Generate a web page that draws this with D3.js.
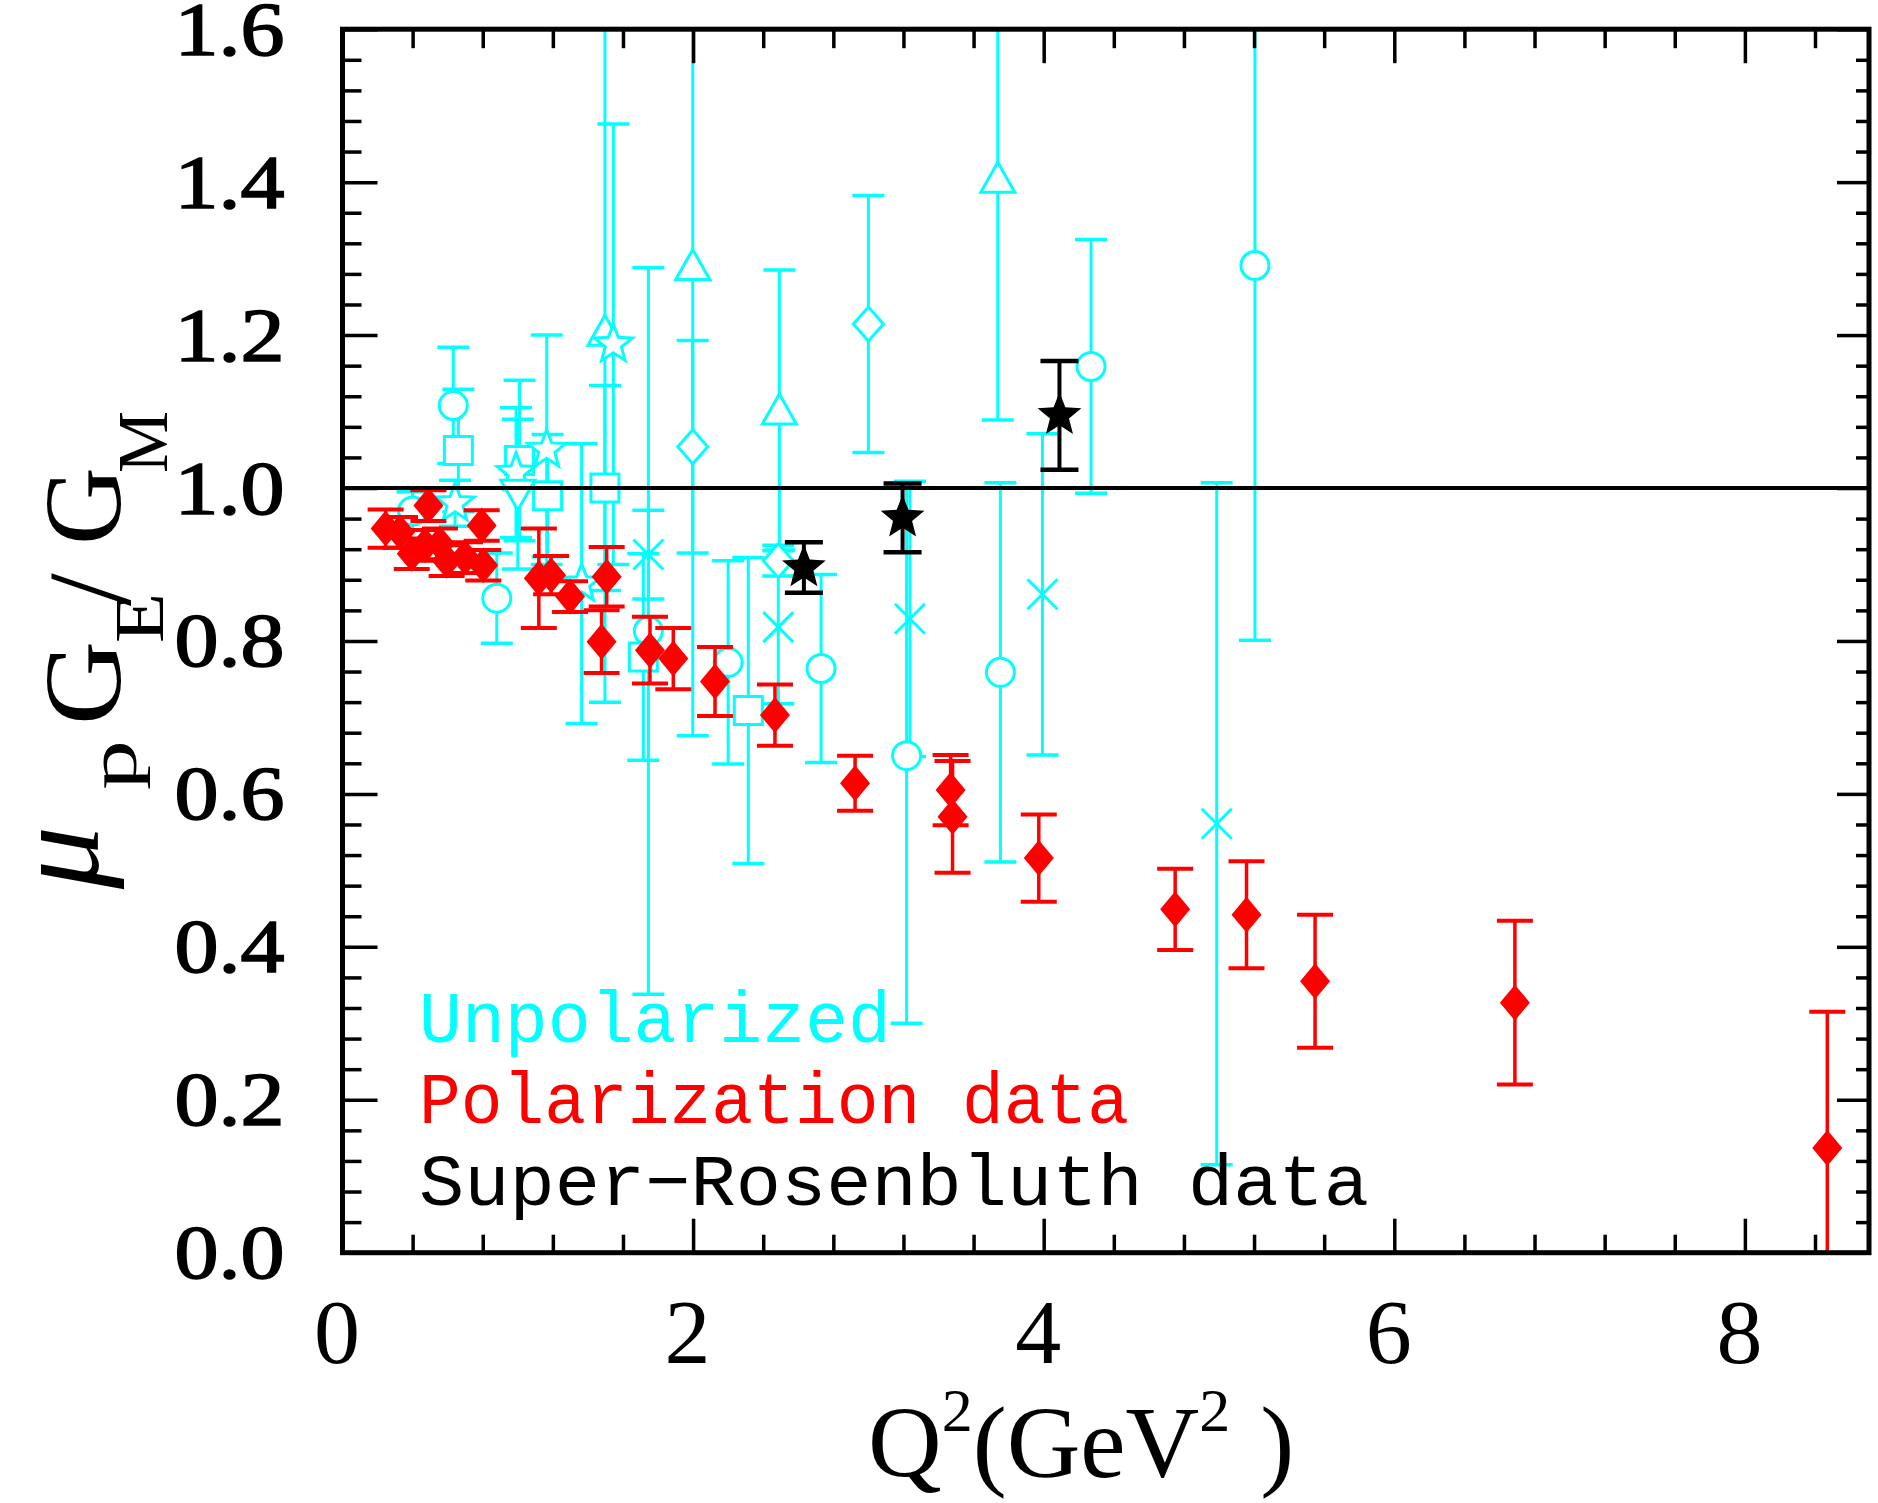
<!DOCTYPE html>
<html><head><meta charset="utf-8">
<script src="https://cdn.jsdelivr.net/npm/d3@7"></script>
<style>html,body{margin:0;padding:0;background:#fff;} svg{display:block;}</style>
</head><body>
<svg id="chart" width="1878" height="1503"></svg>
<script>
// ---------------- data ----------------
// Unpolarized (Rosenbluth) data: cyan, hollow markers
const unpolX = [0.40, 0.632, 0.661, 0.642, 0.88, 1.01, 0.99, 1.0, 1.165, 1.17, 1.364, 1.497, 1.545, 1.497, 1.745, 1.745, 1.716, 1.998, 1.998, 2.2, 2.315, 2.492, 2.486, 2.486, 2.73, 3.0, 3.218, 3.237, 3.738, 3.753, 3.993, 4.27, 4.987, 5.205];
const unpolY = [0.97, 1.108, 1.049, 0.98, 0.856, 1.036, 1.02, 0.992, 1.05, 0.99, 0.875, 1.205, 1.188, 1.0, 0.913, 0.813, 0.779, 1.291, 1.054, 0.772, 0.709, 1.102, 0.905, 0.818, 0.764, 1.2145, 0.65, 0.829, 1.405, 0.759, 0.861, 1.159, 0.561, 1.291];
const unpolErr = [0.025, 0.076, 0.08, 0.03, 0.059, 0.105, 0.085, 0.098, 0.15, 0.08, 0.183, 0.485, 0.288, 0.134, 0.058, 0.475, 0.135, 0.615, 0.139, 0.133, 0.2, 0.183, 0.02, 0.10, 0.123, 0.168, 0.35, 0.18, 0.316, 0.248, 0.21, 0.166, 0.446, 0.49];
const unpolShape = ["circle","circle","square","star","circle","square","star","triDown","star","square","star","triangle","star","square","x","circle","square","triangle","diamond","circle","square","triangle","diamond","x","circle","diamond","circle","x","triangle","circle","x","circle","x","circle"];

// Polarization data: red filled diamonds
const polX = [0.246, 0.328, 0.395, 0.471, 0.49, 0.556, 0.594, 0.699, 0.794, 0.803, 1.12, 1.19, 1.298, 1.507, 1.478, 1.754, 1.887, 2.125, 2.467, 2.924, 3.469, 3.48, 3.972, 4.75, 5.157, 5.548, 6.688, 8.47];
const polY = [0.947, 0.942, 0.914, 0.925, 0.977, 0.927, 0.905, 0.909, 0.951, 0.899, 0.882, 0.886, 0.858, 0.884, 0.799, 0.788, 0.777, 0.747, 0.703, 0.614, 0.605, 0.57, 0.516, 0.449, 0.442, 0.355, 0.327, 0.137];
const polErr = [0.025, 0.02, 0.02, 0.02, 0.02, 0.02, 0.02, 0.02, 0.02, 0.02, 0.065, 0.025, 0.02, 0.039, 0.041, 0.0435, 0.04, 0.045, 0.04, 0.036, 0.046, 0.073, 0.057, 0.053, 0.07, 0.087, 0.107, 0.178];

// Super-Rosenbluth data: black filled stars
const srX = [2.632, 3.195, 4.09];
const srY = [0.896, 0.961, 1.095];
const srErr = [0.033, 0.045, 0.071];

// axes
const xDomain = [0, 8.708];
const yDomain = [0, 1.6];
const xMajorTicks = [0, 2, 4, 6, 8];
const xTickLabels = ["0", "2", "4", "6", "8"];
const xMinorTicks = [0.4, 0.8, 1.2, 1.6, 2.4, 2.8, 3.2, 3.6, 4.4, 4.8, 5.2, 5.6, 6.4, 6.8, 7.2, 7.6, 8.4];
const yMajorTicks = [0, 0.2, 0.4, 0.6, 0.8, 1.0, 1.2, 1.4, 1.6];
const yTickLabels = ["0.0", "0.2", "0.4", "0.6", "0.8", "1.0", "1.2", "1.4", "1.6"];
const yMinorTicks = [0.04,0.08,0.12,0.16,0.24,0.28,0.32,0.36,0.44,0.48,0.52,0.56,0.64,0.68,0.72,0.76,0.84,0.88,0.92,0.96,1.04,1.08,1.12,1.16,1.24,1.28,1.32,1.36,1.44,1.48,1.52,1.56];
const refLineValue = 1.0;

const legendLabels = ["Unpolarized", "Polarization data", "Super\u2212Rosenbluth data"];
const legendColors = ["#00ffff", "#ff0000", "#000000"];

// ---------------- layout ----------------
const L = 342.5, R = 1869, T = 29.2, B = 1252.7;
const CYAN = "#00ffff", RED = "#ff0000";

const svg = d3.select("#chart");
const x = d3.scaleLinear().domain(xDomain).range([L, R]);
const y = d3.scaleLinear().domain(yDomain).range([B, T]);

svg.append("defs").append("clipPath").attr("id", "plotclip")
  .append("rect").attr("x", L).attr("y", T).attr("width", R - L).attr("height", B - T);

const plot = svg.append("g").attr("clip-path", "url(#plotclip)");

function starPath(Ro, Ri) {
  const pts = [];
  for (let i = 0; i < 10; i++) {
    const a = -Math.PI / 2 + i * Math.PI / 5;
    const r = i % 2 === 0 ? Ro : Ri;
    pts.push([r * Math.cos(a), r * Math.sin(a)]);
  }
  return "M" + pts.map(p => p[0].toFixed(2) + "," + p[1].toFixed(2)).join("L") + "Z";
}
function shapePath(s) {
  switch (s) {
    case "circle": return "M14,0A14,14 0 1,1 -14,0A14,14 0 1,1 14,0Z";
    case "square": return "M-14,-14H14V14H-14Z";
    case "triangle": return "M0,-16L17,14H-17Z";
    case "triDown": return "M0,16L17,-14H-17Z";
    case "diamond": return "M0,-17L15,0L0,17L-15,0Z";
    case "x": return "M-15,-15L15,15M-15,15L15,-15";
    case "star": return starPath(20, 8.5);
  }
}

function errorBars(g, xs, ys, es, color, capW, lw, capLw) {
  const idx = d3.range(xs.length);
  g.selectAll(null).data(idx).join("line")
    .attr("x1", i => x(xs[i])).attr("x2", i => x(xs[i]))
    .attr("y1", i => y(ys[i] + es[i])).attr("y2", i => y(ys[i] - es[i]))
    .attr("stroke", color).attr("stroke-width", lw);
  g.selectAll(null).data(idx).join("line")
    .attr("x1", i => x(xs[i]) - capW / 2).attr("x2", i => x(xs[i]) + capW / 2)
    .attr("y1", i => y(ys[i] + es[i])).attr("y2", i => y(ys[i] + es[i]))
    .attr("stroke", color).attr("stroke-width", capLw);
  g.selectAll(null).data(idx).join("line")
    .attr("x1", i => x(xs[i]) - capW / 2).attr("x2", i => x(xs[i]) + capW / 2)
    .attr("y1", i => y(ys[i] - es[i])).attr("y2", i => y(ys[i] - es[i]))
    .attr("stroke", color).attr("stroke-width", capLw);
}

// cyan unpolarized
const gU = plot.append("g");
errorBars(gU, unpolX, unpolY, unpolErr, CYAN, 32, 3, 3.5);
gU.selectAll(null).data(d3.range(unpolX.length)).join("path")
  .attr("transform", i => `translate(${x(unpolX[i])},${y(unpolY[i])})`)
  .attr("d", i => shapePath(unpolShape[i]))
  .attr("fill", i => unpolShape[i] === "x" ? "none" : "#fff")
  .attr("stroke", CYAN).attr("stroke-width", 3);

// red polarization
const gP = plot.append("g");
errorBars(gP, polX, polY, polErr, RED, 36, 3.5, 4);
gP.selectAll(null).data(d3.range(polX.length)).join("path")
  .attr("transform", i => `translate(${x(polX[i])},${y(polY[i])})`)
  .attr("d", "M0,-18L15,0L0,18L-15,0Z")
  .attr("fill", RED);

// black super-Rosenbluth
const gS = plot.append("g");
errorBars(gS, srX, srY, srErr, "#000", 38, 4, 4.5);
gS.selectAll(null).data(d3.range(srX.length)).join("path")
  .attr("transform", i => `translate(${x(srX[i])},${y(srY[i])})`)
  .attr("d", starPath(23, 10))
  .attr("fill", "#000");

// reference line at 1.0
svg.append("line")
  .attr("x1", L).attr("x2", R).attr("y1", y(refLineValue)).attr("y2", y(refLineValue))
  .attr("stroke", "#000").attr("stroke-width", 4);

// ---------------- axes (inward ticks on all four sides) ----------------
function tickAxis(axisFn, scale, vals, size, transform) {
  const g = svg.append("g").attr("transform", transform)
    .call(axisFn(scale).tickValues(vals).tickSize(size).tickFormat(""));
  g.select(".domain").remove();
  g.selectAll(".tick line").attr("stroke", "#000").attr("stroke-width", 3.5);
  return g;
}
tickAxis(d3.axisBottom, x, xMajorTicks, -34, `translate(0,${B})`);
tickAxis(d3.axisBottom, x, xMinorTicks, -18, `translate(0,${B})`);
tickAxis(d3.axisTop, x, xMajorTicks, -34, `translate(0,${T})`);
tickAxis(d3.axisTop, x, xMinorTicks, -19, `translate(0,${T})`);
tickAxis(d3.axisLeft, y, yMajorTicks, -35, `translate(${L},0)`);
tickAxis(d3.axisLeft, y, yMinorTicks, -19, `translate(${L},0)`);
tickAxis(d3.axisRight, y, yMajorTicks, -32, `translate(${R},0)`);
tickAxis(d3.axisRight, y, yMinorTicks, -13, `translate(${R},0)`);

// frame
svg.append("rect").attr("x", L).attr("y", T).attr("width", R - L).attr("height", B - T)
  .attr("fill", "none").attr("stroke", "#000").attr("stroke-width", 5);

// tick labels
const yLab = svg.append("g").attr("transform", `translate(${L},0)`)
  .call(d3.axisLeft(y).tickValues(yMajorTicks).tickSize(0).tickFormat((d, i) => yTickLabels[i]));
yLab.select(".domain").remove();
yLab.selectAll(".tick text")
  .attr("x", -58).attr("dy", null).attr("y", 25)
  .attr("text-anchor", "end")
  .attr("font-family", "'Liberation Serif', 'Times New Roman', serif")
  .attr("font-size", 76).attr("fill", "#000")
  .attr("stroke", "#000").attr("stroke-width", 1.6)
  .attr("textLength", 110).attr("lengthAdjust", "spacingAndGlyphs");

const xLab = svg.append("g").attr("transform", `translate(0,${B})`)
  .call(d3.axisBottom(x).tickValues(xMajorTicks).tickSize(0).tickFormat((d, i) => xTickLabels[i]));
xLab.select(".domain").remove();
xLab.selectAll(".tick text")
  .attr("x", -6).attr("dy", null).attr("y", 110)
  .attr("text-anchor", "middle")
  .attr("font-family", "'Liberation Serif', 'Times New Roman', serif")
  .attr("font-size", 92).attr("fill", "#000");

// x title
const xt = svg.append("text").attr("x", 868).attr("y", 1477)
  .attr("font-family", "'Liberation Serif', 'Times New Roman', serif")
  .attr("font-size", 102).attr("fill", "#000");
xt.append("tspan").text("Q");
xt.append("tspan").attr("font-size", 62).attr("dy", -46).text("2");
xt.append("tspan").attr("dy", 46).text("(GeV");
xt.append("tspan").attr("font-size", 62).attr("dy", -46).text("2");
xt.append("tspan").attr("dy", 46).attr("dx", 30).text(")");

// y title, rotated; each glyph placed along the vertical span it occupies
// (local x = -screenY, local y = screenX - 120)
const yt = svg.append("g").attr("transform", "translate(120,0) rotate(-90)")
  .attr("font-family", "'Liberation Serif', 'Times New Roman', serif").attr("fill", "#000");
const yTitleParts = [
  {t: "\u03bc", top: 826, bot: 889, size: 122, shift: -22, italic: true},
  {t: "p", top: 740, bot: 790, size: 68, shift: 16},
  {t: "G", top: 641, bot: 725, size: 110, shift: 0},
  {t: "E", top: 593, bot: 643, size: 70, shift: 43},
  {t: "G", top: 467, bot: 545, size: 110, shift: 0},
  {t: "M", top: 411, bot: 473, size: 72, shift: 47}
];
yt.selectAll(null).data(yTitleParts).join("text")
  .attr("x", d => -d.bot).attr("y", d => d.shift)
  .attr("font-size", d => d.size)
  .attr("font-style", d => d.italic ? "italic" : "normal")
  .attr("textLength", d => d.bot - d.top).attr("lengthAdjust", "spacingAndGlyphs")
  .text(d => d.t);
// the slash keeps its natural thin shape
yt.append("text").attr("x", -606).attr("y", 10).attr("font-size", 118).text("/");

// legend texts
const legendBaselines = [1042, 1123, 1205];
const legendLengths = [472, 710, 950];
svg.selectAll(null).data(legendLabels).join("text")
  .attr("x", 419).attr("y", (d, i) => legendBaselines[i])
  .attr("font-family", "'Liberation Mono', 'Courier New', monospace")
  .attr("font-size", 73)
  .attr("textLength", (d, i) => legendLengths[i]).attr("lengthAdjust", "spacingAndGlyphs")
  .attr("fill", (d, i) => legendColors[i])
  .text(d => d);
</script>
</body></html>
